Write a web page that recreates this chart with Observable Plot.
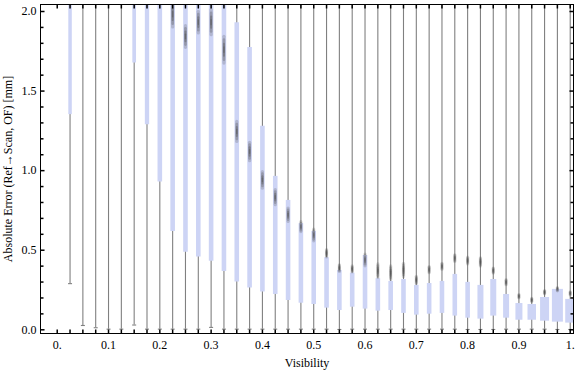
<!DOCTYPE html>
<html>
<head>
<meta charset="utf-8">
<script src="https://cdn.jsdelivr.net/npm/d3@7"></script>
<script src="https://cdn.jsdelivr.net/npm/@observablehq/plot@0.6"></script>
<style>
  html, body { margin: 0; padding: 0; background: #fff; }
</style>
</head>
<body>
<div id="chart"></div>
<script>
// ---- data ----
const visibility = [0.025, 0.05, 0.075, 0.1, 0.125, 0.15, 0.175, 0.2, 0.225, 0.25,
                    0.275, 0.3, 0.325, 0.35, 0.375, 0.4, 0.425, 0.45, 0.475, 0.5,
                    0.525, 0.55, 0.575, 0.6, 0.625, 0.65, 0.675, 0.7, 0.725, 0.75,
                    0.775, 0.8, 0.825, 0.85, 0.875, 0.9, 0.925, 0.95, 0.975, 1.0];
const whiskerLow = [0.29, 0.027, 0.013, 0.004, 0.004, 0.03, 0.004, 0.004, 0.004, 0.004,
                    0.004, 0.015, 0.004, 0.004, 0.004, 0.004, 0.004, 0.004, 0.004, 0.004,
                    0.004, 0.002, 0.004, 0.004, 0.004, 0.004, 0.004, 0.004, 0.004, 0.004,
                    0.004, 0.002, 0.002, 0.002, 0.004, 0.004, 0.004, 0.004, 0.002, 0.002];
const boxLow = [1.352, 2.2, 2.2, 2.2, 2.2, 1.677, 1.289, 0.928, 0.618, 0.487,
                0.457, 0.43, 0.367, 0.30, 0.262, 0.237, 0.222, 0.184, 0.167, 0.159,
                0.136, 0.121, 0.142, 0.13, 0.117, 0.121, 0.103, 0.092, 0.098, 0.103,
                0.086, 0.073, 0.067, 0.086, 0.073, 0.06, 0.06, 0.054, 0.048, 0.042];
const boxHigh = [2.6, 2.8, 2.8, 2.8, 2.8, 2.5, 2.5, 2.5, 2.5, 2.5,
                 2.5, 2.5, 2.5, 1.93, 1.774, 1.279, 0.964, 0.813, 0.667, 0.618,
                 0.453, 0.373, 0.356, 0.467, 0.321, 0.304, 0.316, 0.279, 0.291, 0.304,
                 0.348, 0.298, 0.279, 0.316, 0.222, 0.165, 0.159, 0.203, 0.254, 0.191];
const whiskerHigh = [3.0, 3.0, 3.0, 3.0, 3.0, 3.0, 3.0, 3.0, 3.0, 3.0,
                     3.0, 3.0, 3.0, 3.0, 3.0, 3.0, 3.0, 3.0, 3.0, 3.0,
                     3.0, 3.0, 3.0, 3.0, 3.0, 3.0, 3.0, 3.0, 3.0, 3.0,
                     3.0, 3.0, 3.0, 3.0, 3.0, 3.0, 3.0, 3.0, 3.0, 3.0];
const marker = [null, null, null, null, null, null, null, null, 1.98, 1.84,
                1.93, 1.93, 1.757, 1.243, 1.117, 0.939, 0.83, 0.72, 0.645, 0.593,
                0.478, 0.384, 0.379, 0.436, 0.369, 0.356, 0.373, 0.31, 0.375, 0.396,
                0.447, 0.432, 0.423, 0.369, 0.296, 0.208, 0.184, 0.233, 0.252, 0.226];
const markerSpread = [0, 0, 0, 0, 0, 0, 0, 0, 0.08, 0.068,
                      0.068, 0.079, 0.084, 0.063, 0.058, 0.052, 0.047, 0.042, 0.031, 0.037,
                      0.023, 0.021, 0.019, 0.037, 0.042, 0.042, 0.042, 0.023, 0.019, 0.019,
                      0.021, 0.021, 0.026, 0.016, 0.016, 0.01, 0.01, 0.01, 0.01, 0.01];
const xTickValues = [0, 0.1, 0.2, 0.3, 0.4, 0.5, 0.6, 0.7, 0.8, 0.9, 1.0];
const xTickLabels = ["0.", "0.1", "0.2", "0.3", "0.4", "0.5", "0.6", "0.7", "0.8", "0.9", "1."];
const yTickValues = [0, 0.5, 1.0, 1.5, 2.0];
const yTickLabels = ["0.0", "0.5", "1.0", "1.5", "2.0"];
const xLabel = "Visibility";
const yLabel = "Absolute Error (Ref\u2192Scan, OF) [mm]";

// ---- table built from the arrays ----
const rows = visibility.map((v, i) => ({
  v, lo: whiskerLow[i], q1: boxLow[i], q3: boxHigh[i], hi: whiskerHigh[i],
  m: marker[i], s: markerSpread[i]
}));
const markers = rows.filter(d => d.m != null);

// ---- styles ----
const boxColor = "#cdd4f5";
const whiskerColor = "#808080";
const blobColor = "#4a4a4a";
const boxWidthStyle = {0.025: 3.5, 0.15: 3.7, 0.175: 4.3, 0.825: 6, 0.85: 6, 0.875: 6,
                       0.9: 7, 0.925: 8.5, 0.95: 9, 0.975: 11, 1: 10};
const boxWidth = d => boxWidthStyle[d.v] ?? 4.6;

const xDomain = [-0.0326, 1.0064];
const yDomain = [-0.0233, 2.044];
const minorX = d3.range(0, 41).map(i => i / 40);
const minorY = d3.range(0, 21).map(i => i / 10);
const majorY = yTickValues;

// custom symbols (pixel-sized strokes)
const lineSym = (fx, fy) => ({ draw(ctx, size) { const r = Math.sqrt(size / Math.PI); ctx.moveTo(0, 0); ctx.lineTo(fx * r, fy * r); } });
const hCap = { draw(ctx, size) { const r = Math.sqrt(size / Math.PI); ctx.moveTo(-r, 0); ctx.lineTo(r, 0); } };

// soft blob = stacked translucent round-capped strokes
const blobLayer = (frac, width, opacity) =>
  Plot.ruleX(markers, { x: "v", y1: d => d.m - d.s * frac, y2: d => d.m + d.s * frac,
    stroke: blobColor, strokeWidth: width, strokeLinecap: "round", strokeOpacity: opacity, clip: true });

const font = "'Liberation Serif', 'Times New Roman', serif";

const svg = Plot.plot({
  width: 576,
  height: 375,
  marginLeft: 40,
  marginRight: 3,
  marginTop: 4,
  marginBottom: 42,
  style: { fontFamily: font, fontSize: "12px", background: "#fff", color: "#000" },
  x: { domain: xDomain, axis: null },
  y: { domain: yDomain, axis: null },
  marks: [
    // whiskers
    Plot.ruleX(rows, { x: "v", y1: "lo", y2: "hi", stroke: whiskerColor, strokeWidth: 1.1, clip: true }),
    Plot.dot(rows, { x: "v", y: "lo", symbol: hCap, r: 2, stroke: whiskerColor, strokeWidth: 1.1, fill: "none" }),
    // boxes
    Plot.ruleX(rows, { x: "v", y1: "q1", y2: "q3", stroke: boxColor, strokeWidth: boxWidth, clip: true }),
    // marker blobs
    blobLayer(1.0, 3.2, 0.22),
    blobLayer(0.75, 2.6, 0.28),
    blobLayer(0.45, 2.0, 0.35),
    blobLayer(0.2, 1.4, 0.4),
    // frame
    Plot.frame({ stroke: "#000", strokeWidth: 1 }),
    // ticks (inward)
    Plot.dot(minorX, { x: d => d, y: yDomain[0], symbol: lineSym(0, -1), r: 4, stroke: "#000", fill: "none" }),
    Plot.dot(minorX, { x: d => d, y: yDomain[1], symbol: lineSym(0, 1), r: 4, stroke: "#000", fill: "none" }),
    Plot.dot(minorY, { x: xDomain[0], y: d => d, symbol: lineSym(1, 0), r: d => (majorY.includes(d) ? 4.5 : 2.5), stroke: "#000", fill: "none" }),
    Plot.dot(minorY, { x: xDomain[1], y: d => d, symbol: lineSym(-1, 0), r: d => (majorY.includes(d) ? 4.5 : 2.5), stroke: "#000", fill: "none" }),
    // axes labels
    Plot.axisX(xTickValues, { tickSize: 0, tickPadding: 7, tickFormat: d => xTickLabels[Math.round(d * 10)], label: null, fontSize: 12, fill: "#000" }),
    Plot.axisY(yTickValues, { tickSize: 0, tickPadding: 4, tickFormat: d => yTickLabels[Math.round(d * 2)], label: null, fontSize: 12, fill: "#000" }),
    Plot.text([xLabel], { frameAnchor: "bottom", dy: 33, fontSize: 12, fill: "#000" }),
    Plot.text([yLabel], { frameAnchor: "left", textAnchor: "middle", dx: -32, rotate: -90, fontSize: 12, fill: "#000" })
  ]
});

document.getElementById("chart").appendChild(svg);
</script>
</body>
</html>
